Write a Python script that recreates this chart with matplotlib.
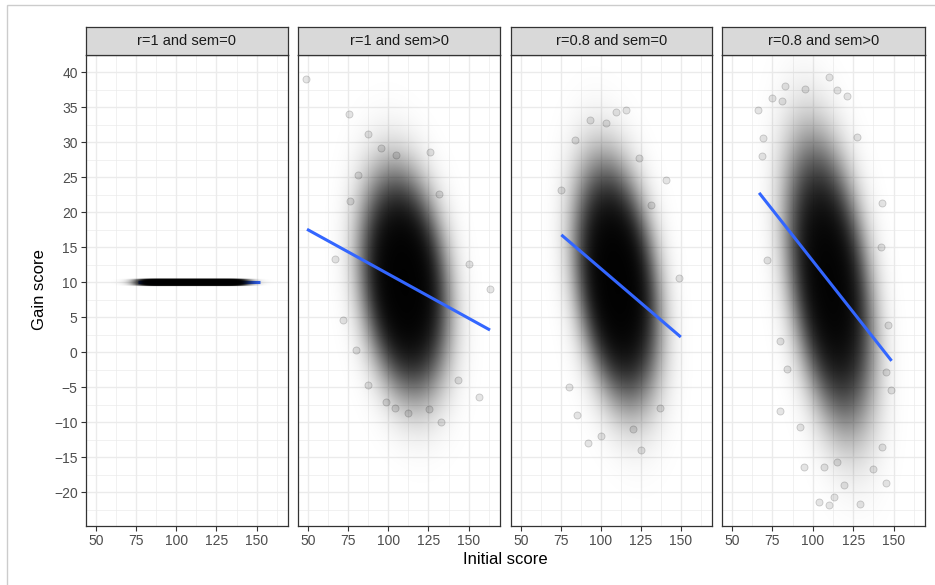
import numpy as np
import matplotlib
matplotlib.use("Agg")
import matplotlib.pyplot as plt
from matplotlib.patches import Rectangle

plt.rcParams['font.family'] = ['Liberation Sans', 'DejaVu Sans']

# ---------------- data ----------------
panel_titles = ["r=1 and sem=0", "r=1 and sem>0", "r=0.8 and sem=0", "r=0.8 and sem>0"]

# summary of each point cloud
n_points = [9000, 9000, 9000, 9000]
mean_x = [110, 110, 110, 110.5]
sd_x = [11, 13, 12.5, 13]
mean_y = [10, 10, 10, 10]
sd_y = [0, 7.5, 8.1, 9.8]
corr = [0, -0.22, -0.3, -0.39]

# fitted (lm) line end points
line_x0 = [76, 49.4, 75.3, 66.8]
line_x1 = [152, 163.3, 150, 148.8]
line_y0 = [10, 17.6, 16.8, 22.8]
line_y1 = [10, 3.2, 2.2, -1.2]

# individually visible outlying points
out_x = [
    [],
    [49.0, 75.3, 87.3, 126.0, 95.6, 104.9, 81.1, 75.9, 131.8, 66.6, 71.7, 163.3, 150.4,
     80.1, 143.2, 87.3, 156.2, 132.9, 112.1, 103.9, 98.7, 125.6],
    [115.8, 109.6, 92.9, 103.3, 83.6, 140.7, 74.9, 148.9, 124.0, 131.3, 92, 100, 125,
     120, 137, 80, 85],
    [82.9, 95.3, 109.9, 115.1, 74.6, 66.2, 121.3, 80.8, 69.3, 127.6, 68.3, 142.1, 71.4,
     143.1, 79.7, 83.9, 79.7, 92.2, 94.3, 103.6, 109.9, 113.0, 119.2, 129.2, 145.2,
     143.1, 137.0, 148.3, 145.2, 146.3, 106.7, 115.1],
]
out_y = [
    [],
    [39.1, 34.0, 31.2, 28.6, 29.2, 28.2, 25.4, 21.6, 22.7, 13.3, 4.6, 9.0, 12.6,
     0.3, -4.0, -4.7, -6.4, -10.0, -8.6, -8.0, -7.1, -8.1],
    [34.7, 34.3, 33.2, 32.8, 30.4, 24.6, 23.2, 10.6, 27.8, 21.1, -13, -12, -14,
     -11, -8, -5, -9],
    [38.0, 37.6, 39.4, 37.5, 36.3, 34.6, 36.7, 35.9, 30.6, 30.8, 28.0, 15.1, 13.2,
     21.3, -8.3, -2.3, 1.7, -10.7, -16.4, -21.4, -21.8, -20.7, -19.0, -21.6, -18.7,
     -13.5, -16.6, -5.3, -2.8, 3.9, -16.4, -15.7],
]

x_ticks = [50, 75, 100, 125, 150]
y_ticks = [-20, -15, -10, -5, 0, 5, 10, 15, 20, 25, 30, 35, 40]
x_label = "Initial score"
y_label = "Gain score"

# ---------------- layout ----------------
W, H = 935, 585
fig = plt.figure(figsize=(W / 100, H / 100), dpi=100)
panel_px = [(86, 288), (298, 500), (511, 712), (722, 925)]
top_px, bot_px, strip_top = 55, 526, 27
XLIM = (43.8, 169.5)
YLIM = (-24.8, 42.5)
alpha_pt = 0.1
marker_r_px = 3.6

fig.add_artist(Rectangle((7 / W, -0.1), 1.2, (H - 5) / H + 0.1, transform=fig.transFigure,
                         fill=False, ec='#cccccc', lw=1.0))

grid_c = '#ebebeb'
for i, (l, r) in enumerate(panel_px):
    ax = fig.add_axes([l / W, (H - bot_px) / H, (r - l) / W, (bot_px - top_px) / H])
    ax.set_xlim(*XLIM)
    ax.set_ylim(*YLIM)
    ax.set_facecolor('white')
    # grid
    for xv in np.arange(37.5, 175, 12.5):
        major = xv in x_ticks
        ax.axvline(xv, color=grid_c, lw=1.0 if major else 0.5, zorder=0)
    for yv in np.arange(-22.5, 45, 2.5):
        major = yv in y_ticks
        ax.axhline(yv, color=grid_c, lw=1.0 if major else 0.5, zorder=0)

    # density rendering of the overlapping translucent points
    ov = 2
    nx = (r - l) * ov
    ny = (bot_px - top_px) * ov
    xs = XLIM[0] + (np.arange(nx) + 0.5) / nx * (XLIM[1] - XLIM[0])
    ys = YLIM[0] + (np.arange(ny) + 0.5) / ny * (YLIM[1] - YLIM[0])
    dx = (XLIM[1] - XLIM[0]) / nx
    dy = (YLIM[1] - YLIM[0]) / ny
    counts = np.zeros((ny, nx))
    if sd_y[i] == 0:
        px = np.exp(-0.5 * ((xs - mean_x[i]) / sd_x[i]) ** 2) / (np.sqrt(2 * np.pi) * sd_x[i])
        row = np.argmin(np.abs(ys - mean_y[i]))
        counts[row, :] = n_points[i] * px * dx
    else:
        X, Y = np.meshgrid(xs, ys)
        zx = (X - mean_x[i]) / sd_x[i]
        zy = (Y - mean_y[i]) / sd_y[i]
        rho = corr[i]
        q = (zx ** 2 - 2 * rho * zx * zy + zy ** 2) / (1 - rho ** 2)
        pdf = np.exp(-0.5 * q) / (2 * np.pi * sd_x[i] * sd_y[i] * np.sqrt(1 - rho ** 2))
        counts = n_points[i] * pdf * dx * dy
    R = marker_r_px * ov
    kr = int(np.ceil(R)) + 1
    kk = np.arange(-kr, kr + 1)
    KX, KY = np.meshgrid(kk, kk)
    kern = np.clip(R + 0.5 - np.sqrt(KX ** 2 + KY ** 2), 0, 1)
    sh = (ny + kern.shape[0], nx + kern.shape[1])
    conv = np.fft.irfft2(np.fft.rfft2(counts, sh) * np.fft.rfft2(kern, sh), sh)
    conv = conv[kr:kr + ny, kr:kr + nx]
    conv = np.clip(conv, 0, None)
    opac = 1 - (1 - alpha_pt) ** conv
    img = np.zeros((ny, nx, 4))
    img[..., 3] = opac
    ax.imshow(img, extent=[XLIM[0], XLIM[1], YLIM[0], YLIM[1]], origin='lower',
              aspect='auto', interpolation='antialiased', zorder=2)
    if out_x[i]:
        ax.scatter(out_x[i], out_y[i], s=26, facecolor=(0, 0, 0, 0.1),
                   edgecolor=(0, 0, 0, 0.18), lw=0.6, zorder=2.5)
    ax.plot([line_x0[i], line_x1[i]], [line_y0[i], line_y1[i]], color='#3366FF',
            lw=2.2, solid_capstyle='butt', zorder=1.5 if sd_y[i] == 0 else 3)
    ax.set_xlim(*XLIM)
    ax.set_ylim(*YLIM)

    ax.set_xticks(x_ticks)
    ax.set_yticks(y_ticks)
    ax.tick_params(axis='both', length=3.5, width=0.8, color='#333333',
                   labelcolor='#4d4d4d', labelsize=10, pad=2.5)
    if i > 0:
        ax.tick_params(axis='y', length=0, labelleft=False)
    for s in ax.spines.values():
        s.set_color('#333333')
        s.set_linewidth(0.9)
        s.set_zorder(4)

    sax = fig.add_axes([l / W, (H - top_px) / H, (r - l) / W, (top_px - strip_top) / H])
    sax.set_facecolor('#d9d9d9')
    sax.set_xticks([])
    sax.set_yticks([])
    for s in sax.spines.values():
        s.set_color('#333333')
        s.set_linewidth(0.9)
    sax.text(0.5, 0.5, panel_titles[i], ha='center', va='center', fontsize=10.5,
             color='#1a1a1a', transform=sax.transAxes)

fig.text((86 + 925) / 2 / W, 1 - 560 / H, x_label, ha='center', va='center', fontsize=12)
fig.text(40 / W, 1 - 290 / H, y_label, ha='center', va='center', rotation=90, fontsize=12)

fig.savefig('out.png', dpi=100)
